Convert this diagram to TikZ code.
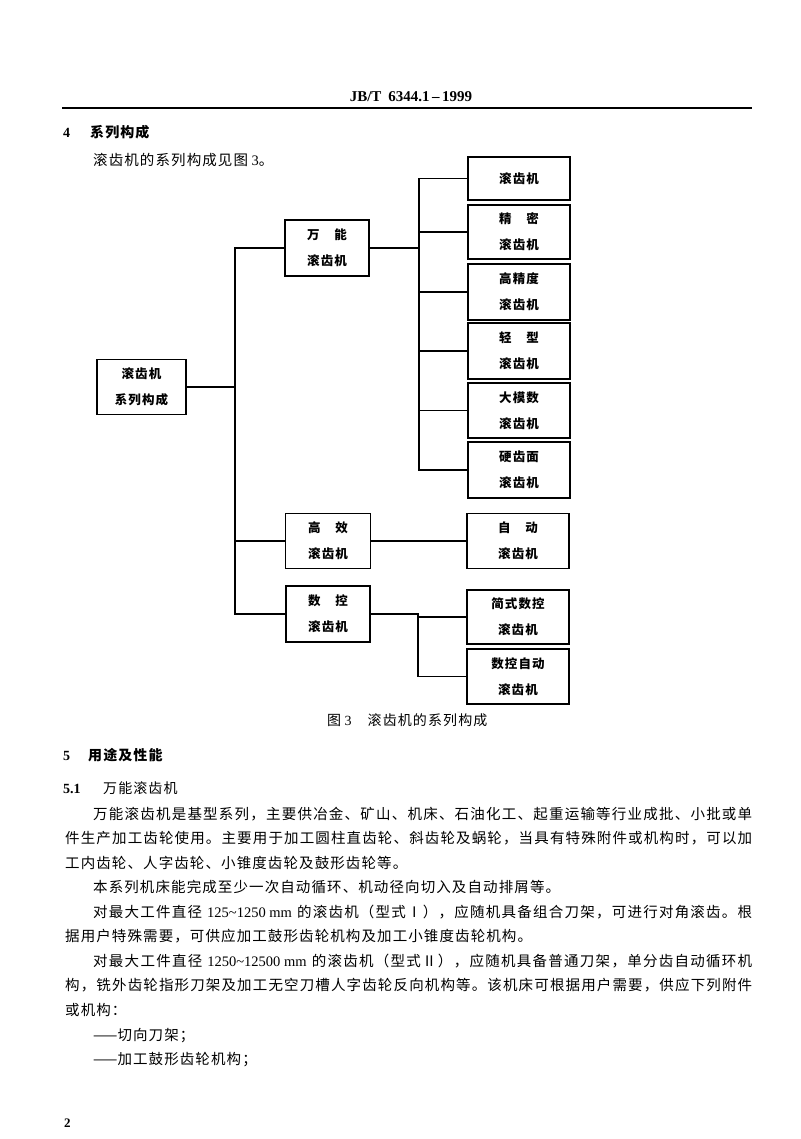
\documentclass[tikz,border=0pt]{standalone}
\usepackage{fontspec}
\setmainfont{Noto Sans CJK SC}
\newfontfamily\lat{Liberation Serif}
\makeatletter
\def\setcjkclass#1#2{\count@=#1\relax
  \loop \XeTeXcharclass\count@=7 \ifnum\count@<#2\relax \advance\count@ 1 \repeat}
\setcjkclass{"4E00}{"9FFF}
\setcjkclass{"3000}{"303F}
\setcjkclass{"FF00}{"FFEF}
\setcjkclass{"2160}{"216F}
\makeatother
\XeTeXinterchartokenstate=1
\newcommand\cjkglue{\hskip 1.1pt plus 4pt\relax}
\XeTeXinterchartoks 7 7 = {\cjkglue}
\newcommand\bodyfs{\fontsize{14.5pt}{18pt}\selectfont}
\newcommand\boxfs{\fontsize{12.5pt}{26pt}\selectfont\bfseries}
\newcommand\capfs{\fontsize{14pt}{16pt}\selectfont}
\newcommand\headfs{\fontsize{14pt}{16pt}\selectfont}
\begin{document}
\begin{tikzpicture}[x=1pt,y=-1pt,
  bx/.style={draw, line width=1.6pt, minimum width=102pt, minimum height=55pt,
    inner sep=0pt, align=center, font=\boxfs},
  txt/.style={anchor=base west, inner sep=0pt, font=\bodyfs},
  conn/.style={line width=1.5pt}]
\useasboundingbox[fill=white] (0,0) rectangle (800,1139);
% page header
\node[anchor=base, inner sep=0pt, font={\lat\bfseries\fontsize{15pt}{17pt}\selectfont}] (hdr) at (411,102) {JB/T\hspace{7pt}6344.1\,\textendash\,1999};
\draw[line width=1.5pt] (62,108) -- (752,108);
% section 4
\node[txt, font={\lat\bfseries\fontsize{14pt}{16pt}\selectfont}] (s4n) at (63,138) {4};
\node[txt, font={\headfs\bfseries}] (s4t) at (90,138) {系列构成};
\node[txt] (p0) at (93,165.5) {滚齿机的系列构成见图{\lat\ 3}。};
% diagram boxes
\node[bx, minimum width=89pt] (root) at (141.5,387) {滚齿机\\系列构成};
\node[bx, minimum width=84pt, minimum height=56pt] (wn) at (327,248) {万　能\\滚齿机};
\node[bx, minimum width=85pt] (gx) at (328,541) {高　效\\滚齿机};
\node[bx, minimum width=84pt, minimum height=56pt] (sk) at (328,614) {数　控\\滚齿机};
\node[bx, minimum height=43pt] (r1) at (519,178.5) {滚齿机};
\node[bx, minimum height=54pt] (r2) at (519,232) {精　密\\滚齿机};
\node[bx, minimum height=56pt] (r3) at (519,292) {高精度\\滚齿机};
\node[bx, minimum height=56pt] (r4) at (519,351) {轻　型\\滚齿机};
\node[bx] (r5) at (519,410.5) {大模数\\滚齿机};
\node[bx, minimum height=56pt] (r6) at (519,470) {硬齿面\\滚齿机};
\node[bx] (r7) at (518,541) {自　动\\滚齿机};
\node[bx, minimum height=54pt] (r8) at (518,617) {简式数控\\滚齿机};
\node[bx] (r9) at (518,676.5) {数控自动\\滚齿机};
% buses
\coordinate (busL) at (235,0);
\coordinate (busR) at (419,0);
\coordinate (busS) at (418,0);
\draw[conn] (root.east) -- (root.east -| busL);
\draw[conn] (wn.west) -- (wn.west -| busL) -- (busL |- sk.west) -- (sk.west);
\draw[conn] (gx.west) -- (gx.west -| busL);
\draw[conn] (r1.west) -- (r1.west -| busR) -- (busR |- r6.west) -- (r6.west);
\foreach \n in {r2,r3,r4,r5} \draw[conn] (\n.west) -- (\n.west -| busR);
\draw[conn] (wn.east) -- (wn.east -| busR);
\draw[conn] (gx.east) -- (r7.west);
\draw[conn] (sk.east) -- (sk.east -| busS) -- (busS |- r9.west) -- (r9.west);
\draw[conn] (r8.west) -- (r8.west -| busS);
% caption
\node[anchor=base west, inner sep=0pt, font=\capfs] (cap) at (327,725) {图{\lat\ 3}\hspace{16pt}滚齿机的系列构成};
% section 5
\node[txt, font={\lat\bfseries\fontsize{14pt}{16pt}\selectfont}] (s5n) at (63,760) {5};
\node[txt, font={\headfs\bfseries}] (s5t) at (88,760) {用途及性能};
\node[txt, font={\lat\bfseries\fontsize{14pt}{16pt}\selectfont}] (s51n) at (63,793.5) {5.1};
\node[txt, font=\headfs] (s51t) at (103,793.5) {万能滚齿机};
% body
\node[txt] (l1) at (93,819) {\makebox[659pt][s]{万能滚齿机是基型系列，主要供冶金、矿山、机床、石油化工、起重运输等行业成批、小批或单}};
\node[txt] (l2) at (65,843.5) {\makebox[687pt][s]{件生产加工齿轮使用。主要用于加工圆柱直齿轮、斜齿轮及蜗轮，当具有特殊附件或机构时，可以加}};
\node[txt] (l3) at (65,868) {工内齿轮、人字齿轮、小锥度齿轮及鼓形齿轮等。};
\node[txt] (l4) at (93,892.5) {本系列机床能完成至少一次自动循环、机动径向切入及自动排屑等。};
\node[txt] (l5) at (93,917) {\makebox[659pt][s]{对最大工件直径\hspace{5pt plus 1pt}{\lat 125\textasciitilde 1250\ mm}\hspace{5pt plus 1pt}的滚齿机（型式Ⅰ），应随机具备组合刀架，可进行对角滚齿。根}};
\node[txt] (l6) at (65,941.5) {据用户特殊需要，可供应加工鼓形齿轮机构及加工小锥度齿轮机构。};
\node[txt] (l7) at (93,966) {\makebox[659pt][s]{对最大工件直径\hspace{5pt plus 1pt}{\lat 1250\textasciitilde 12500\ mm}\hspace{5pt plus 1pt}的滚齿机（型式Ⅱ），应随机具备普通刀架，单分齿自动循环机}};
\node[txt] (l8) at (65,990.5) {\makebox[687pt][s]{构，铣外齿轮指形刀架及加工无空刀槽人字齿轮反向机构等。该机床可根据用户需要，供应下列附件}};
\node[txt] (l9) at (65,1015) {或机构：};
\node[txt] (l10) at (93,1040) {——切向刀架；};
\node[txt] (l11) at (93,1064.5) {——加工鼓形齿轮机构；};
\node[txt, font={\lat\bfseries\fontsize{13pt}{15pt}\selectfont}] (pg) at (64,1127) {2};
\end{tikzpicture}
\end{document}
